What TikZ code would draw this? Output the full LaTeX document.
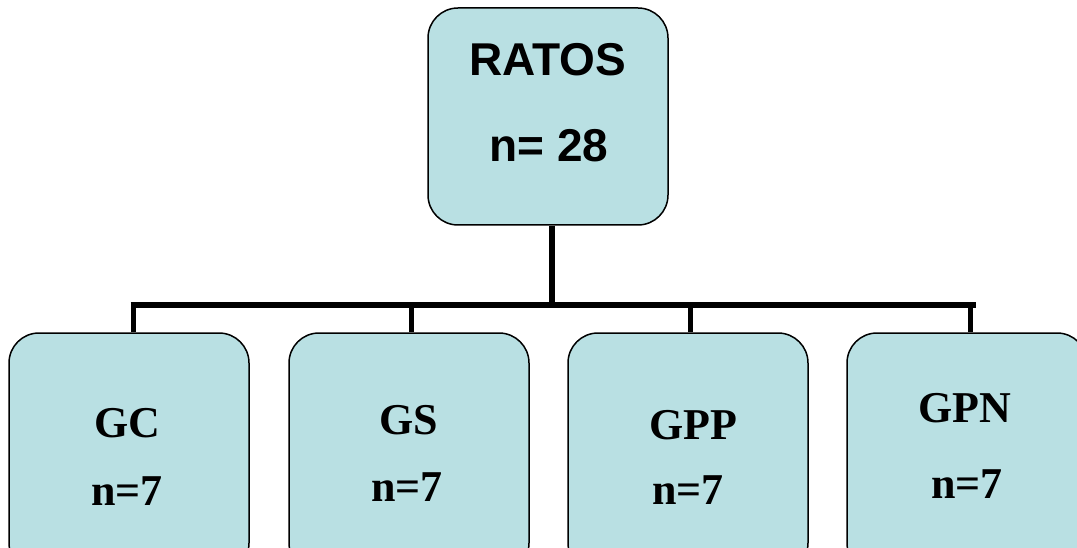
\documentclass[tikz,border=0pt]{standalone}
\usepackage{fontspec}
\setmainfont{Liberation Serif}
\newfontfamily\arialfont{Liberation Sans}
\definecolor{boxfill}{RGB}{185,224,227}
\begin{document}
\begin{tikzpicture}[x=1pt,y=-1pt,
  grp/.style={draw=black,line width=1.5pt,fill=boxfill,rounded corners=30pt,minimum width=240pt,inner sep=0pt},
  toptext/.style={font=\arialfont\bfseries\fontsize{46}{46}\selectfont,inner sep=0pt},
  bottext/.style={font=\bfseries\fontsize{44}{44}\selectfont,inner sep=0pt},
  conn/.style={line width=6pt},
  drop/.style={line width=5pt}]
\clip (0,0) rectangle (1077,548);
\node[grp,minimum height=217pt] (top) at (548,116.5) {};
\node[grp,minimum height=240pt] (gc) at (129,453) {};
\node[grp,minimum height=240pt] (gs) at (409,453) {};
\node[grp,minimum height=240pt] (gpp) at (688,453) {};
\node[grp,minimum height=240pt] (gpn) at (967,453) {};
\node[toptext] (t1) at (548,60) {RATOS};
\node[toptext] (t2) at (549,146) {n= 28};
\node[bottext] (a1) at (127,423) {GC};
\node[bottext] (a2) at (127,491) {n=7};
\node[bottext] (b1) at (409,420) {GS};
\node[bottext] (b2) at (407,487) {n=7};
\node[bottext] (c1) at (693,425) {GPP};
\node[bottext] (c2) at (688,490) {n=7};
\node[bottext] (d1) at (965,408) {GPN};
\node[bottext] (d2) at (967,484) {n=7};
\coordinate (j) at (552,305);
\draw[conn] ([xshift=4pt]top.south) -- (j);
\draw[conn] (130.5,305) -- (975.5,305);
\draw[drop] ([xshift=4pt]gc.north) -- ([xshift=4pt]gc.north |- j);
\draw[drop] ([xshift=2pt]gs.north) -- ([xshift=2pt]gs.north |- j);
\draw[drop] ([xshift=2pt]gpp.north) -- ([xshift=2pt]gpp.north |- j);
\draw[drop] ([xshift=3pt]gpn.north) -- ([xshift=3pt]gpn.north |- j);
\end{tikzpicture}
\end{document}
